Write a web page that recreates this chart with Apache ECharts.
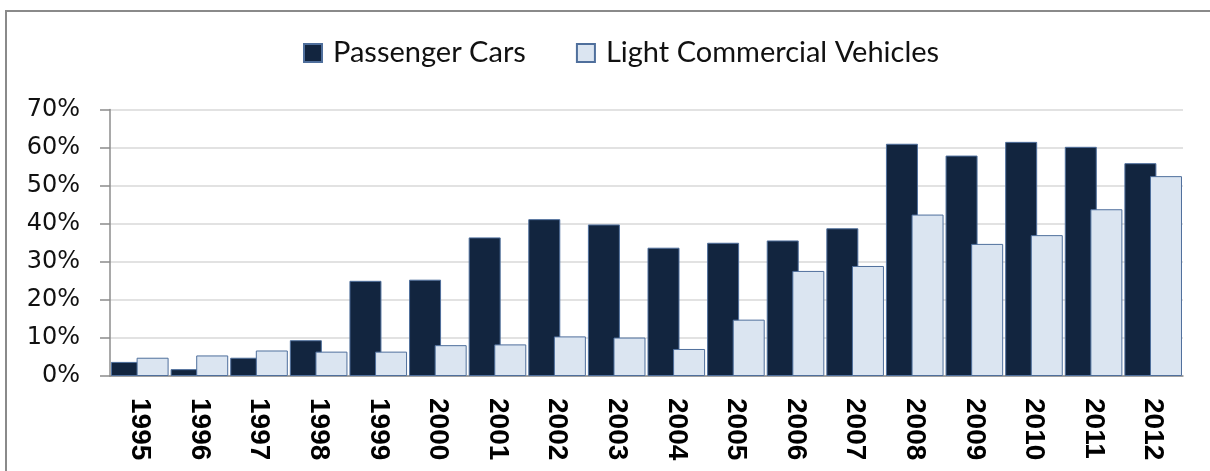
<!DOCTYPE html>
<html lang="en">
<head>
    <meta charset="UTF-8">
    <title>share chart</title>
    <style>
        html, body { margin: 0; padding: 0; background: #fff; }
        #chart { width: 1210px; height: 471px; }
    </style>
</head>
<body>
<div id="chart"></div>
<script src="https://cdn.jsdelivr.net/npm/echarts@6/dist/echarts.min.js"></script>
<script>
    var years = ["1995", "1996", "1997", "1998", "1999", "2000", "2001", "2002", "2003",
        "2004", "2005", "2006", "2007", "2008", "2009", "2010", "2011", "2012"];
    var passengerCars = [3.7, 1.8, 4.8, 9.4, 25.0, 25.3, 36.4, 41.2, 39.8,
        33.7, 35.0, 35.6, 38.8, 61.0, 57.9, 61.5, 60.2, 55.9];
    var lightCommercial = [4.8, 5.4, 6.7, 6.4, 6.4, 8.1, 8.3, 10.4, 10.1,
        7.1, 14.8, 27.6, 28.9, 42.4, 34.7, 37.0, 43.8, 52.5];
    var yTicks = [0, 70, 10];

    var chart = echarts.init(document.getElementById("chart"));

    var option = {
        animation: false,
        backgroundColor: "#fff",
        legend: {
            left: 298,
            top: 33,
            icon: "rect",
            itemWidth: 18,
            itemHeight: 18,
            itemGap: 50,
            textStyle: {
                fontFamily: "Lato",
                fontSize: 29,
                lineHeight: 30,
                padding: [0, 0, 0, 6],
                color: "#111"
            },
            data: ["Passenger Cars", "Light Commercial Vehicles"]
        },
        grid: {
            left: 110,
            right: 27,
            top: 109.5,
            bottom: 95,
            outerBoundsMode: "none",
            containLabel: false
        },
        xAxis: {
            type: "category",
            data: years,
            axisLine: { lineStyle: { color: "#8c8c8c", width: 1.5 } },
            axisTick: { length: 10, interval: 0, lineStyle: { color: "#8c8c8c", width: 1.5 } },
            axisLabel: {
                interval: 0,
                rotate: -90,
                margin: 22,
                color: "#000",
                fontFamily: "Liberation Sans",
                fontWeight: "bold",
                fontSize: 28
            }
        },
        yAxis: {
            type: "value",
            min: yTicks[0],
            max: yTicks[1],
            interval: yTicks[2],
            axisLine: { show: true, lineStyle: { color: "#8c8c8c", width: 1.5 } },
            axisTick: { show: true, length: 10, lineStyle: { color: "#8c8c8c", width: 1.5 } },
            axisLabel: {
                formatter: "{value}%",
                margin: 30,
                color: "#111",
                fontFamily: "DejaVu Sans",
                fontSize: 24
            },
            splitLine: { lineStyle: { color: "#d9d9d9", width: 1.5 } }
        },
        series: [
            {
                name: "Passenger Cars",
                type: "bar",
                data: passengerCars,
                barWidth: 32,
                barGap: "-20%",
                itemStyle: { color: "#12253f", borderColor: "#4f6f9c", borderWidth: 1 }
            },
            {
                name: "Light Commercial Vehicles",
                type: "bar",
                data: lightCommercial,
                barWidth: 32,
                barGap: "-20%",
                itemStyle: { color: "#dbe5f1", borderColor: "#4f6f9c", borderWidth: 1 }
            }
        ],
        graphic: [
            {
                type: "polyline",
                shape: { points: [[6, 471], [6, 11], [1210, 11]] },
                style: { stroke: "#8a8a8a", lineWidth: 2, fill: null }
            }
        ]
    };

    chart.setOption(option);
</script>
</body>
</html>
